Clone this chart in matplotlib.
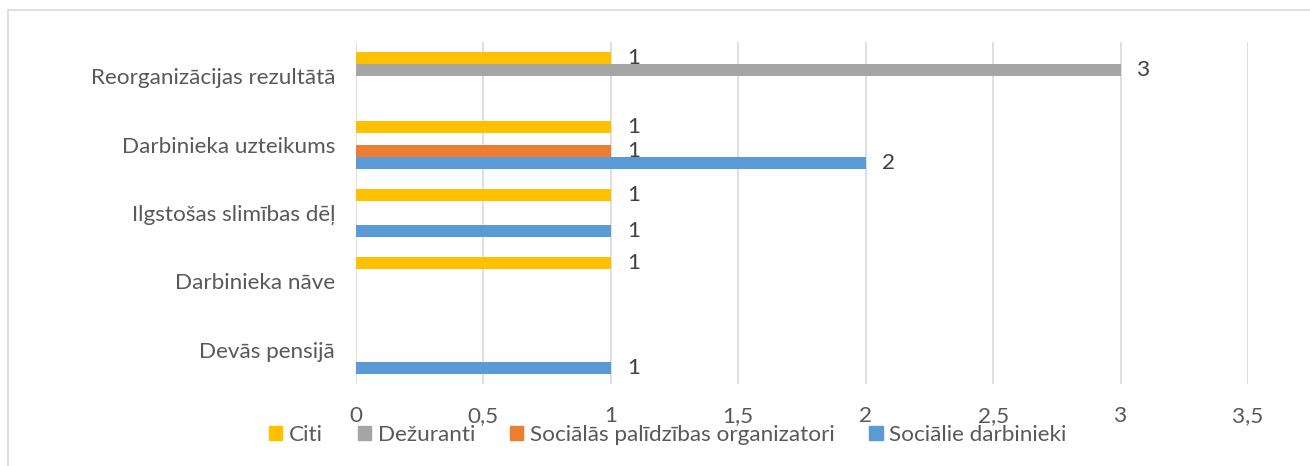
import numpy as np
import matplotlib.pyplot as plt
from matplotlib.patches import Patch, Rectangle

plt.rcParams['font.family'] = ['Lato', 'DejaVu Sans']

categories = ['Devās pensijā', 'Darbinieka nāve', 'Ilgstošas slimības dēļ',
              'Darbinieka uzteikums', 'Reorganizācijas rezultātā']
soc_darbinieki = [1, 0, 1, 2, 0]
soc_organizatori = [0, 0, 0, 1, 0]
dezuranti = [0, 0, 0, 0, 3]
citi = [0, 1, 1, 1, 1]

series = [
    ('Sociālie darbinieki', soc_darbinieki, '#5B9BD5'),
    ('Sociālās palīdzības organizatori', soc_organizatori, '#ED7D31'),
    ('Dežuranti', dezuranti, '#A5A5A5'),
    ('Citi', citi, '#FFC000'),
]
xticks = [0, 0.5, 1, 1.5, 2, 2.5, 3, 3.5]
xtick_labels = ['0', '0,5', '1', '1,5', '2', '2,5', '3', '3,5']

txt = '#595959'
fs = 16.2
fig = plt.figure(figsize=(13.1, 4.66), dpi=100)
ax = fig.add_axes([356/1310, 1-384/466, (1248-356)/1310, (384-42)/466])

y = np.arange(len(categories))
h = 0.175
for i, (name, vals, col) in enumerate(series):
    off = (i - 1.5) * h
    ax.barh(y + off, vals, height=h, color=col, zorder=3)
    for yy, v in zip(y + off, vals):
        if v:
            ax.text(v + 0.065, yy, str(v), va='center', ha='left',
                    fontsize=fs, color='#404040', zorder=2.5)

ax.set_xlim(0, 3.5)
ax.set_ylim(-0.5, len(categories) - 0.5)
ax.set_xticks(xticks)
ax.set_xticklabels(xtick_labels)
ax.set_yticks(y)
ax.set_yticklabels(categories)
ax.tick_params(length=0, labelsize=fs, colors=txt)
ax.tick_params(axis='y', pad=15)
ax.tick_params(axis='x', pad=16)
ax.grid(axis='x', color='#D9D9D9', linewidth=1.2, zorder=0)
for s in ax.spines.values():
    s.set_visible(False)

handles = [Patch(color=c, label=n) for n, _, c in series[::-1]]
fig.legend(handles=handles, loc='center', bbox_to_anchor=(668/1310, 1-435/466),
           ncol=4, frameon=False, fontsize=fs, labelcolor=txt,
           handlelength=0.58, handleheight=0.58, handletextpad=0.3,
           columnspacing=1.55)

fig.patches.append(Rectangle((8/1310, -0.1), 1.2, 1-10/466+0.1, transform=fig.transFigure,
                             fill=False, edgecolor='#D9D9D9', linewidth=1.2))

fig.savefig('out.png', dpi=100)
